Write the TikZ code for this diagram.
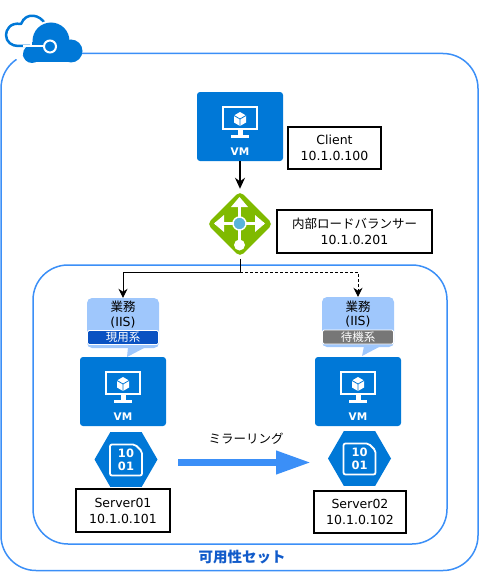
\documentclass[tikz,border=0pt]{standalone}
\usepackage{fontspec}
\setmainfont{DejaVu Sans}
\newfontfamily\jpfont{Noto Sans CJK JP}
\usetikzlibrary{arrows.meta,shapes.geometric}
\definecolor{azure}{HTML}{0078D7}
\definecolor{frameblue}{HTML}{3B8FF7}
\definecolor{bubbleblue}{HTML}{9FC7FC}
\definecolor{bandblue}{HTML}{0A52C2}
\definecolor{bandgray}{HTML}{777777}
\definecolor{lbgreen}{HTML}{7FBA00}
\definecolor{lbcore}{HTML}{59B4D9}
\tikzset{
    frame/.style={draw=frameblue, line width=1.5pt, rounded corners=35pt},
    vmbox/.style={fill=azure, rounded corners=3pt, minimum width=86pt, minimum height=69pt, inner sep=0pt},
    infobox/.style={draw=black, line width=1.2pt, fill=white, align=center, inner sep=0pt, font=\fontsize{12.5}{16}\selectfont},
    bubble/.style={fill=bubbleblue, rounded corners=5pt, minimum width=72pt, minimum height=50pt, inner sep=0pt},
    band/.style={draw=white, line width=0.8pt, rounded corners=1.5pt, minimum width=71pt, minimum height=14pt, inner sep=0pt, text=white, font=\jpfont\fontsize{11.5}{13}\selectfont},
    biztext/.style={align=center, inner sep=0pt, font=\fontsize{12.5}{14.5}\selectfont},
    hexbox/.style={regular polygon, regular polygon sides=6, fill=azure, minimum size=63pt, inner sep=0pt},
    wire/.style={line width=0.9pt, -{Stealth[length=9pt,width=9pt]}},
    pics/vmicon/.style={code={
        \draw[white, line width=2pt] (-17,-20) rectangle (17,2);
        \fill[white] (-2.5,2) rectangle (2.5,8);
        \fill[white] (-9,8) rectangle (9,11);
        % 立方体
        \fill[white] (0,-14.5) -- (6,-11) -- (6,-4) -- (0,-0.5) -- (-6,-4) -- (-6,-11) -- cycle;
        \draw[azure, line width=0.8pt] (-6,-11) -- (0,-7.5) -- (6,-11) (0,-7.5) -- (0,-0.5);
        \node[text=white, inner sep=0pt, font=\bfseries\fontsize{10.5}{12}\selectfont] (-label) at (0,25) {VM};
    }},
    pics/diskicon/.style={code={
        \draw[white, line width=1.8pt, rounded corners=2pt] (-16,-15) -- (9,-15) -- (16,-8) -- (16,16) -- (-16,16) -- cycle;
        \node[text=white, inner sep=0pt, font=\bfseries\fontsize{11.5}{12}\selectfont] (-top) at (0,-6) {10};
        \node[text=white, inner sep=0pt, font=\bfseries\fontsize{11.5}{12}\selectfont] (-bottom) at (0,7) {01};
    }}
}
\begin{document}
\begin{tikzpicture}[>=Stealth, x=1pt, y=-1pt]
    \useasboundingbox (0,0) rectangle (479,578);

    % 外枠と可用性セット
    \draw[frame] (1,53.5) rectangle (478,570.5);
    \draw[frame] (33,265) rectangle (447,544);
    \node[text=bandblue!85!frameblue, inner sep=0pt, font=\jpfont\bfseries\fontsize{14.5}{16}\selectfont] (avset) at (242,557) {可用性セット};

    % クラウド
    \draw[azure, line width=2.5pt, line join=round] (45,24) .. controls (41,15) and (26,11) .. (21,24)
        .. controls (10,22) and (6,30) .. (6,35) .. controls (6,42) and (12,46) .. (18,46) -- (30,46);
    \fill[white] (51,41) circle (20.5);
    \fill[white] (14,57) -- (22,50) -- (24,66) -- cycle;
    \fill[azure] (51,41) circle (18.5);
    \fill[azure] (71,51) circle (11.5);
    \fill[azure] (32,54) circle (9);
    \fill[azure] (32,42) rectangle (71,62.5);
    \draw[white, line width=2pt] (23,46.5) -- (44,46.5);
    \draw[white, line width=2pt, fill=azure] (50,46.5) circle (6);

    % クライアント
    \node[vmbox] (client) at (240,126.5) {};
    \pic (clientvm) at (240,126.5) {vmicon};
    \node[infobox, minimum width=93pt, minimum height=42pt] (clientinfo) at (334.5,148) {Client\\10.1.0.100};

    % ロードバランサー
    \node[diamond, fill=lbgreen, rounded corners=5pt, minimum width=66pt, minimum height=66pt, inner sep=0pt] (lb) at (240,224) {};
    \draw[white, line width=3pt] (215,223.5) -- (264,223.5) (239.5,199) -- (239.5,245);
    \fill[white] (239.5,197) -- (248,207) -- (231,207) -- cycle;
    \fill[white] (214,223.5) -- (224,215) -- (224,232) -- cycle;
    \fill[white] (265,223.5) -- (255,215) -- (255,232) -- cycle;
    \fill[white] (239.5,245) circle (5.5);
    \draw[white, line width=1.5pt, fill=lbcore] (239.5,223.5) circle (6.5);
    \node[infobox, minimum width=155pt, minimum height=43pt] (lbinfo) at (354.5,231.5) {{\jpfont 内部ロードバランサー}\\10.1.0.201};

    % 現用系
    \fill[bubbleblue] (128,347) -- (127,357) -- (146,347) -- cycle;
    \node[bubble] (bizA) at (123,323) {};
    \node[biztext] (bizAtext) at (123,314.5) {{\jpfont 業務}\\(IIS)};
    \node[band, fill=bandblue] (bizAband) at (123,337.5) {現用系};
    \node[vmbox] (vmA) at (123,391.5) {};
    \pic (vmAicon) at (123,391.5) {vmicon};
    \node[hexbox] (diskA) at (126,459.5) {};
    \pic (diskAicon) at (126,459.5) {diskicon};
    \node[infobox, minimum width=94pt, minimum height=43pt] (serverA) at (123,510.5) {Server01\\10.1.0.101};

    % 待機系
    \fill[bubbleblue] (364,346) -- (362,356) -- (381,346) -- cycle;
    \node[bubble] (bizB) at (358,322) {};
    \node[biztext] (bizBtext) at (358,314) {{\jpfont 業務}\\(IIS)};
    \node[band, fill=bandgray] (bizBband) at (358,337) {待機系};
    \node[vmbox] (vmB) at (358,391.5) {};
    \pic (vmBicon) at (358,391.5) {vmicon};
    \node[hexbox] (diskB) at (359.5,458.5) {};
    \pic (diskBicon) at (359.5,458.5) {diskicon};
    \node[infobox, minimum width=92pt, minimum height=42pt] (serverB) at (360,512) {Server02\\10.1.0.102};

    % 接続線
    \coordinate (split) at (240,272);
    \draw[line width=1.5pt, -{Stealth[length=11pt,width=10pt]}, shorten >=2pt] (client) -- (lb);
    \draw[line width=0.9pt, shorten <=1.5pt] (lb) -- (split);
    \draw[wire] (split) -| (bizA);
    \draw[wire, dash pattern=on 3pt off 2pt] (split) -| (bizB);

    % ミラーリング
    \coordinate (mirrorA) at (178,462.5);
    \coordinate (mirrorB) at (311,462.5);
    \draw[frameblue, line width=7pt, -{Triangle[length=35pt,width=22pt]}] (mirrorA) -- (mirrorB);
    \node[inner sep=0pt, font=\jpfont\fontsize{12.5}{14}\selectfont] (mirrorlabel) at (246,439) {ミラーリング};
\end{tikzpicture}
\end{document}
